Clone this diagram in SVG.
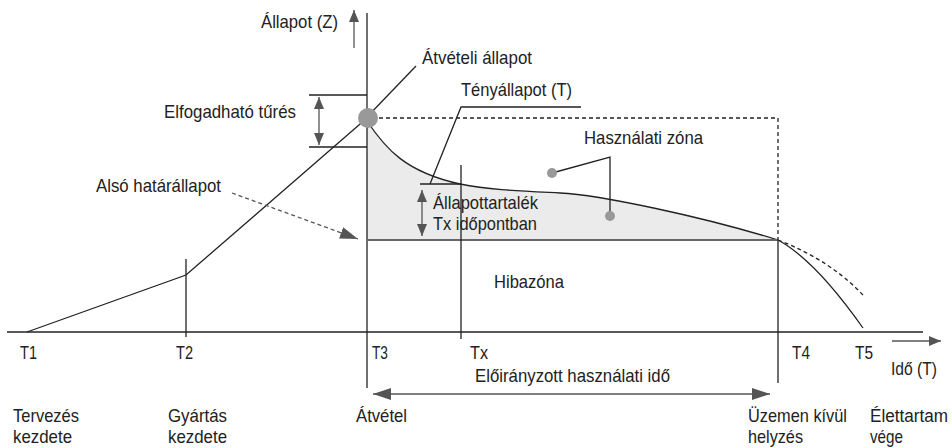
<svg xmlns="http://www.w3.org/2000/svg" width="952" height="448" viewBox="0 0 952 448">
<style>
text{font-family:"Liberation Sans",Arial,sans-serif;font-size:18.5px;fill:#222}
.ln{stroke:#222;stroke-width:1.3;fill:none}
.gr{stroke:#666;stroke-width:2;fill:none}
.ds{stroke:#222;stroke-width:1.3;fill:none;stroke-dasharray:4 3}
.ar{stroke:#555;stroke-width:1.3;fill:none}
.dot{fill:#999}
</style>
<defs>
<marker id="ah" viewBox="0 0 12 10" refX="12" refY="5" markerWidth="12" markerHeight="10" orient="auto-start-reverse" markerUnits="userSpaceOnUse"><path d="M0,0L12,5L0,10Z" fill="#555"/></marker>
<marker id="ahL" viewBox="0 0 18 12" refX="18" refY="6" markerWidth="18" markerHeight="12" orient="auto-start-reverse" markerUnits="userSpaceOnUse"><path d="M0,0L18,6L0,12Z" fill="#555"/></marker>
</defs>
<rect width="952" height="448" fill="#fff"/>

<g id="zones">
<path d="M367,121 C385,148 405,172 460,184 C490,190 520,191 560,193 C600,195 700,216 778,240 L367,240 Z" fill="#ebebeb"/>
</g>

<g id="axes">
<line class="ln" x1="367" y1="13" x2="367" y2="388"/>
<line class="ln" x1="7" y1="332" x2="923" y2="332"/>
<line class="ar" x1="354" y1="48" x2="354" y2="10" marker-end="url(#ah)"/>
<line class="ar" x1="892" y1="341" x2="941" y2="341" marker-end="url(#ah)"/>
</g>

<g id="curves">
<polyline class="ln" points="27,332 186,275 367,118"/>
<path class="ln" d="M367,121 C385,148 405,172 460,184 C490,190 520,191 560,193 C600,195 700,216 778,240"/>
<path class="ln" d="M778,240 Q815,260 863,328"/>
<path class="ds" d="M778,240 Q830,260 863,295"/>
<line class="gr" x1="367" y1="240" x2="778" y2="240"/>
<line class="ds" x1="372" y1="118" x2="778" y2="118"/>
<line class="ds" x1="778" y1="118" x2="778" y2="240"/>
<line class="ln" x1="778" y1="240" x2="778" y2="383"/>
<line class="ln" x1="186" y1="259" x2="186" y2="337"/>
<line class="ln" x1="461" y1="165" x2="461" y2="339"/>
</g>

<g id="connectors">
<line class="ln" x1="367" y1="117" x2="416" y2="66"/>
<polyline class="ln" points="581,107 461,107 430,184"/>
<line class="ln" x1="420" y1="184" x2="461" y2="184"/>
<polyline class="ln" points="552,173 610,157 610,216"/>
<line class="ln" x1="309" y1="95" x2="367" y2="95"/>
<line class="ln" x1="309" y1="147" x2="367" y2="147"/>
<line class="ar" x1="319" y1="97" x2="319" y2="145" marker-start="url(#ah)" marker-end="url(#ah)"/>
<line class="ar" x1="422" y1="190" x2="422" y2="236" marker-start="url(#ah)" marker-end="url(#ah)"/>
<line class="ar" x1="373" y1="394" x2="770" y2="394" marker-start="url(#ahL)" marker-end="url(#ahL)"/>
<line class="ds" style="stroke:#555" x1="232" y1="193" x2="358" y2="239" marker-end="url(#ahL)"/>
</g>

<g id="node-accept"><circle class="dot" cx="368" cy="118" r="10"/></g>
<g id="node-dot1"><circle class="dot" cx="552" cy="173" r="5"/></g>
<g id="node-dot2"><circle class="dot" cx="610" cy="216" r="5"/></g>

<g id="labels">
<text x="261" y="28" textLength="77" lengthAdjust="spacingAndGlyphs">Állapot (Z)</text>
<text x="422" y="64" textLength="110" lengthAdjust="spacingAndGlyphs">Átvételi állapot</text>
<text x="461" y="96" textLength="111" lengthAdjust="spacingAndGlyphs">Tényállapot (T)</text>
<text x="584" y="144" textLength="119" lengthAdjust="spacingAndGlyphs">Használati zóna</text>
<text x="164" y="118" textLength="132" lengthAdjust="spacingAndGlyphs">Elfogadható tűrés</text>
<text x="96" y="192" textLength="125" lengthAdjust="spacingAndGlyphs">Alsó határállapot</text>
<text x="433" y="209" textLength="105" lengthAdjust="spacingAndGlyphs">Állapottartalék</text>
<text x="433" y="230" textLength="104" lengthAdjust="spacingAndGlyphs">Tx időpontban</text>
<text x="494" y="288" textLength="70" lengthAdjust="spacingAndGlyphs">Hibazóna</text>
<text x="475" y="382" textLength="195" lengthAdjust="spacingAndGlyphs">Előirányzott használati idő</text>
<text x="20" y="359" textLength="17" lengthAdjust="spacingAndGlyphs">T1</text>
<text x="176" y="359" textLength="17" lengthAdjust="spacingAndGlyphs">T2</text>
<text x="372" y="359" textLength="16" lengthAdjust="spacingAndGlyphs">T3</text>
<text x="470" y="359" textLength="18" lengthAdjust="spacingAndGlyphs">Tx</text>
<text x="792" y="359" textLength="18" lengthAdjust="spacingAndGlyphs">T4</text>
<text x="855" y="359" textLength="18" lengthAdjust="spacingAndGlyphs">T5</text>
<text x="891" y="375" textLength="46" lengthAdjust="spacingAndGlyphs">Idő (T)</text>
<text x="13" y="422" textLength="66" lengthAdjust="spacingAndGlyphs">Tervezés</text>
<text x="13" y="443" textLength="59" lengthAdjust="spacingAndGlyphs">kezdete</text>
<text x="168" y="422" textLength="59" lengthAdjust="spacingAndGlyphs">Gyártás</text>
<text x="168" y="443" textLength="59" lengthAdjust="spacingAndGlyphs">kezdete</text>
<text x="356" y="422" textLength="51" lengthAdjust="spacingAndGlyphs">Átvétel</text>
<text x="748" y="422" textLength="99" lengthAdjust="spacingAndGlyphs">Üzemen kívül</text>
<text x="748" y="443" textLength="55" lengthAdjust="spacingAndGlyphs">helyzés</text>
<text x="870" y="422" style="font-size:17.5px" textLength="78" lengthAdjust="spacingAndGlyphs">Élettartam</text>
<text x="870" y="443" textLength="33" lengthAdjust="spacingAndGlyphs">vége</text>
</g>
</svg>
